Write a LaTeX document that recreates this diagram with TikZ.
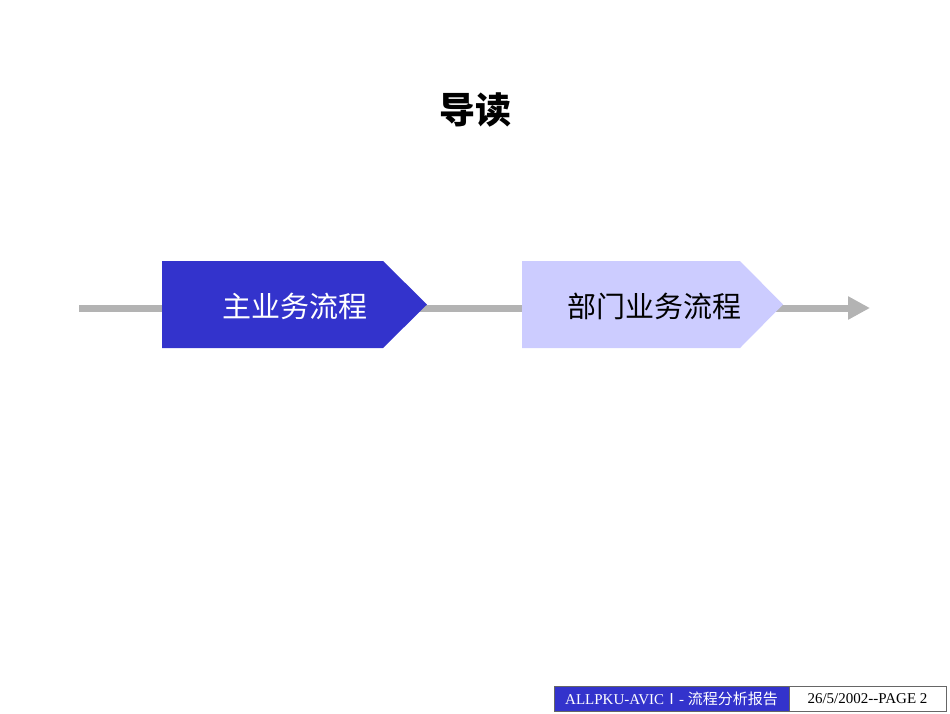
\documentclass[tikz,border=0pt]{standalone}
\usepackage{fontspec}
\setmainfont{Liberation Serif}[Ligatures=NoCommon]
\newfontfamily\cjk{Noto Sans CJK SC}
\usetikzlibrary{arrows.meta}
\definecolor{dblue}{HTML}{3333CC}
\definecolor{lblue}{HTML}{CCCCFF}
\definecolor{lgray}{HTML}{B3B3B3}
\begin{document}
\begin{tikzpicture}[x=1pt,y=-1pt,
  lbl/.style={font=\cjk\fontsize{29}{32}\selectfont}]
\useasboundingbox (0,0) rectangle (950,713);
\coordinate (ls) at (79,308);
\coordinate (le) at (870,308);
\draw[lgray,line width=7pt,-{Triangle[length=22pt,width=22pt]}] (ls) -- (le);
\fill[dblue] (162,261) -- (383,261) -- (427,304.5) -- (383,348) -- (162,348) -- cycle;
\fill[lblue] (522,261) -- (740,261) -- (783,304.5) -- (740,348) -- (522,348) -- cycle;
\node[lbl,text=white] (a) at (295,306) {主业务流程};
\node[lbl,text=black] (b) at (654,306) {部门业务流程};
\node[font=\cjk\bfseries\fontsize{36}{40}\selectfont] (t) at (475,110) {导读};
\node[draw=black!60,fill=dblue,text=white,minimum width=235pt,minimum height=25pt,inner sep=0pt,font=\fontsize{15}{17}\selectfont] (f1) at (671.5,698.5) {ALLPKU-AVIC{\cjk Ⅰ}- {\cjk 流程分析报告}};
\node[draw=black!60,fill=white,minimum width=157pt,minimum height=25pt,inner sep=0pt,font=\fontsize{15}{17}\selectfont] (f2) at (867.5,698.5) {26/5/2002-{}-PAGE 2};
\end{tikzpicture}
\end{document}
